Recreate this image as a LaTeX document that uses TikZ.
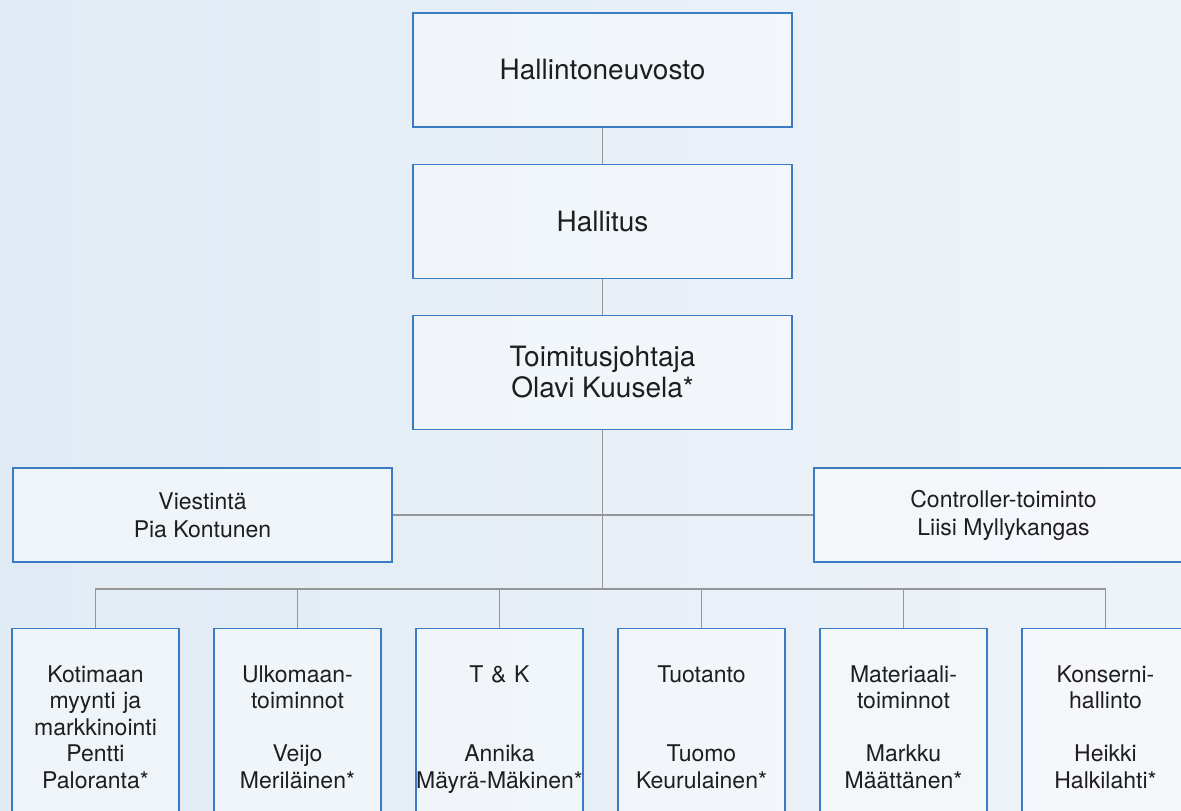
\documentclass[tikz,border=0pt]{standalone}
\usepackage{fontspec}
\setmainfont{TeX Gyre Heros}
\usetikzlibrary{matrix}
\definecolor{boxblue}{RGB}{58,124,196}
\definecolor{linegray}{RGB}{150,150,150}
\definecolor{bgright}{RGB}{238,243,248}
\definecolor{bgleft}{RGB}{225,235,245}
\definecolor{inktext}{RGB}{30,30,30}
\tikzset{
  orgbox/.style={draw=boxblue, line width=1.4pt, fill=white, fill opacity=0.45, text opacity=1, text=inktext, align=center, inner sep=0pt},
  headbox/.style={orgbox, minimum width=379pt, minimum height=114pt, font=\fontsize{28}{31}\selectfont},
  staffbox/.style={orgbox, minimum width=379pt, minimum height=94pt, font=\fontsize{23}{28}\selectfont},
  unitbox/.style={orgbox, text width=167pt, text height=25pt, text depth=103pt, minimum height=186pt, anchor=center, font=\fontsize{23}{26.5}\selectfont},
  conn/.style={draw=linegray, line width=1.2pt}
}
\begin{document}
\begin{tikzpicture}[x=1pt,y=-1pt]
  \clip (0,0) rectangle (1181,811);
  \shade[left color=bgleft, right color=bgright] (0,0) rectangle (1181,811);
  \node[headbox] (neuvosto) at (602.5,70) {Hallintoneuvosto};
  \node[headbox] (hallitus) at (602.5,221.5) {Hallitus};
  \node[headbox] (tj) at (602.5,372.5) {Toimitusjohtaja\\Olavi Kuusela*};
  \node[staffbox] (viestinta) at (202.5,515) {Viestintä\\Pia Kontunen};
  \node[staffbox] (controller) at (1003.5,515) {Controller-toiminto\\Liisi Myllykangas};
  \matrix (m) [matrix of nodes, column sep=33.6pt, inner sep=0pt, anchor=north, nodes={unitbox}] at (600.5,627.3)
  {
{Kotimaan\\myynti ja\\markkinointi\\Pentti\\Paloranta*} &
{Ulkomaan-\\toiminnot\\[26.5pt]Veijo\\Meriläinen*} &
{T \& K\\[53pt]Annika\\Mäyrä-Mäkinen*} &
{Tuotanto\\[53pt]Tuomo\\Keurulainen*} &
{Materiaali-\\toiminnot\\[26.5pt]Markku\\Määttänen*} &
{Konserni-\\hallinto\\[26.5pt]Heikki\\Halkilahti*} \\
};
  \coordinate (bus) at (602.5,589);
  \path[conn] (neuvosto) -- (hallitus) (hallitus) -- (tj) (tj) -- (bus) (viestinta) -- (controller);
  \path[conn] (m-1-1.north) |- (bus) -| (m-1-6.north);
  \foreach \i in {2,...,5}
    \path[conn] (m-1-\i.north) -- (m-1-\i.north |- bus);
\end{tikzpicture}
\end{document}
